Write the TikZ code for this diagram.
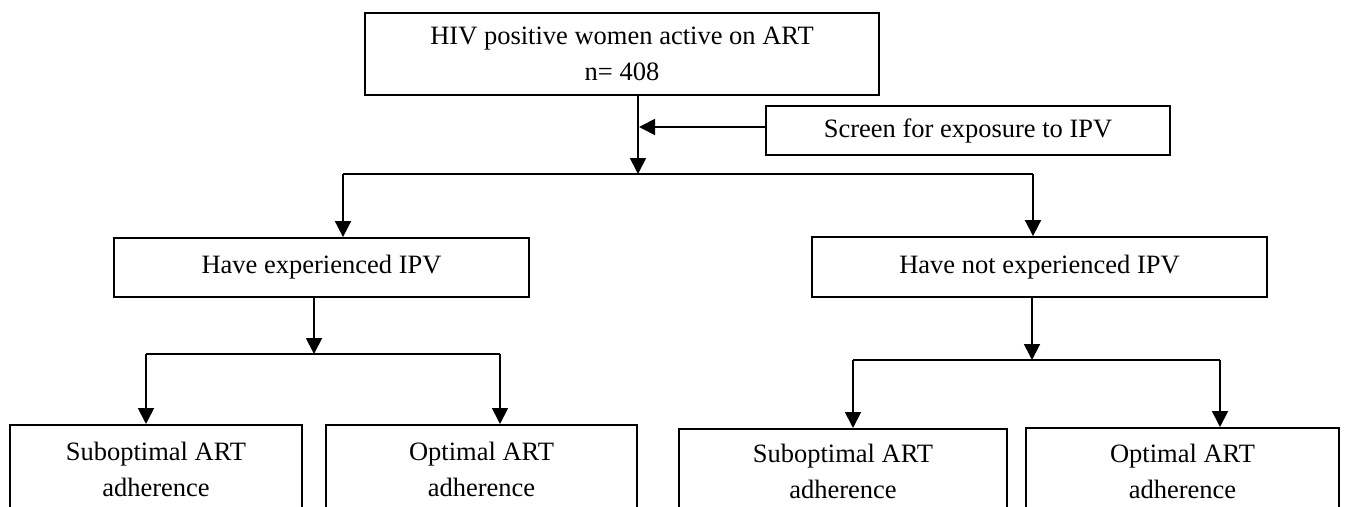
\documentclass[tikz,border=0pt]{standalone}
\usepackage{fontspec}
\setmainfont{Liberation Serif}
\usetikzlibrary{arrows.meta}

\begin{document}
\begin{tikzpicture}[x=1pt, y=-1pt,
    box/.style={draw, line width=1.8pt, inner sep=0pt, align=center,
      font=\fontsize{26.5}{36}\selectfont},
    arr/.style={line width=1.8pt, -{Triangle[length=16pt,width=16pt]}},
    link/.style={line width=1.8pt}]

  \useasboundingbox (0,0) rectangle (1346,506);
  \clip (0,0) rectangle (1346,506);

  % top of the chart
  \node[box, minimum width=514, minimum height=82] (women) at (622,54)
    {HIV positive women active on ART\\n= 408};
  \node[box, minimum width=404, minimum height=49] (screen) at (968,130.5)
    {Screen for exposure to IPV};

  \coordinate (trunk) at (638,174);
  \coordinate (screenin) at (639,127);
  \coordinate (splitL) at (343,174);
  \coordinate (splitR) at (1033,174);

  \draw[arr] (women.south -| trunk) -- (trunk);
  \draw[arr] (screen.west |- screenin) -- (screenin);
  \draw[link] (splitL) -- (splitR);

  % the two groups
  \node[box, minimum width=415, minimum height=59] (ipv) at (321.5,267.5)
    {Have experienced IPV};
  \node[box, minimum width=455, minimum height=60] (noipv) at (1039.5,267)
    {Have not experienced IPV};

  \draw[arr] (splitL) -- (ipv.north -| splitL);
  \draw[arr] (splitR) -- (noipv.north -| splitR);

  % adherence boxes
  \node[box, anchor=north, minimum width=292, minimum height=90] (subA) at (156,424)
    {Suboptimal ART\\adherence};
  \node[box, anchor=north, minimum width=311, minimum height=90] (optA) at (481.5,424)
    {Optimal ART\\adherence};
  \node[box, anchor=north, minimum width=328, minimum height=86] (subB) at (843,428)
    {Suboptimal ART\\adherence};
  \node[box, anchor=north, minimum width=313, minimum height=87] (optB) at (1182.5,427)
    {Optimal ART\\adherence};

  \coordinate (midA) at (314,354);
  \coordinate (midB) at (1032,360);
  \draw[arr] (ipv.south -| midA) -- (midA);
  \draw[arr] (noipv.south -| midB) -- (midB);

  \coordinate (leftA) at (146,354);
  \coordinate (rightA) at (500,354);
  \coordinate (leftB) at (853,360);
  \coordinate (rightB) at (1220,360);
  \draw[link] (leftA) -- (rightA);
  \draw[link] (leftB) -- (rightB);

  \foreach \from/\to in {leftA/subA, rightA/optA, leftB/subB, rightB/optB}{
    \draw[arr] (\from) -- (\to.north -| \from);
  }
\end{tikzpicture}
\end{document}
